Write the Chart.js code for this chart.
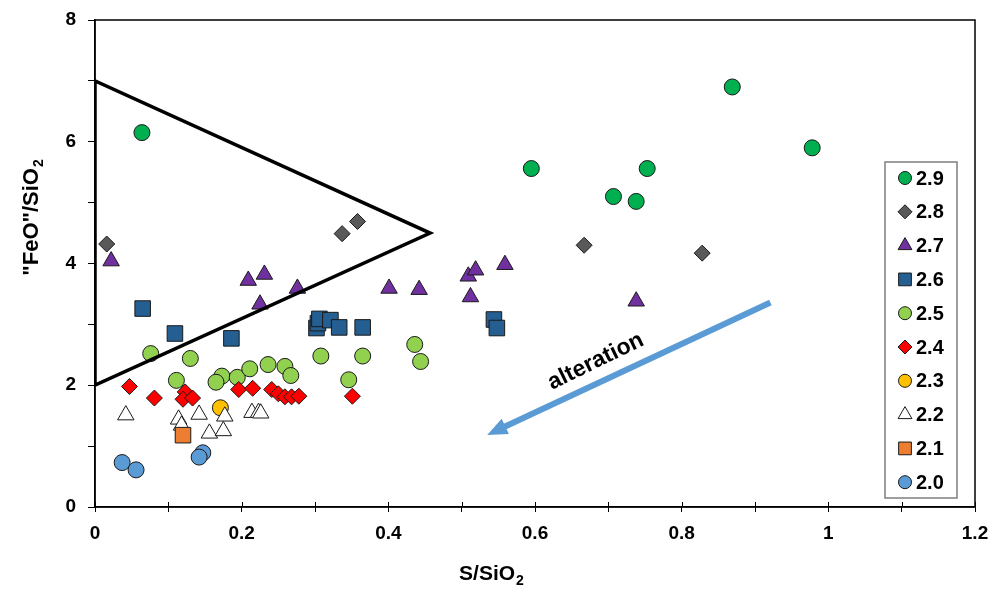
<!DOCTYPE html>
<html>
<head>
<meta charset="utf-8">
<script src="https://cdn.jsdelivr.net/npm/chart.js@4/dist/chart.umd.min.js"></script>
<style>
  html, body { margin: 0; padding: 0; background: #fff; }
  #wrap { width: 990px; height: 590px; }
</style>
</head>
<body>
<div id="wrap"><canvas id="chart" width="990" height="590"></canvas></div>
<script>
// series (sample groups)
const categories = ['2.9', '2.8', '2.7', '2.6', '2.5', '2.4', '2.3', '2.2', '2.1', '2.0'];

const x29 = [0.064, 0.595, 0.707, 0.738, 0.753, 0.869, 0.978];
const y29 = [6.15, 5.56, 5.10, 5.02, 5.56, 6.90, 5.90];

const x28 = [0.016, 0.337, 0.358, 0.667, 0.828];
const y28 = [4.32, 4.49, 4.69, 4.30, 4.17];

const x27 = [0.022, 0.209, 0.231, 0.225, 0.276, 0.401, 0.442, 0.509, 0.519, 0.512, 0.559, 0.738];
const y27 = [4.04, 3.72, 3.82, 3.33, 3.59, 3.59, 3.57, 3.79, 3.89, 3.45, 3.98, 3.38];

const x26 = [0.065, 0.109, 0.186, 0.302, 0.304, 0.306, 0.321, 0.333, 0.365, 0.544, 0.548];
const y26 = [3.26, 2.85, 2.77, 2.94, 3.02, 3.09, 3.07, 2.95, 2.95, 3.08, 2.94];

const x25 = [0.076, 0.130, 0.111, 0.173, 0.165, 0.194, 0.211, 0.236, 0.259, 0.267, 0.308, 0.365, 0.346, 0.436, 0.444];
const y25 = [2.52, 2.44, 2.08, 2.15, 2.05, 2.13, 2.27, 2.34, 2.31, 2.16, 2.48, 2.48, 2.09, 2.67, 2.39];

const x24 = [0.047, 0.081, 0.123, 0.120, 0.133, 0.196, 0.215, 0.241, 0.250, 0.259, 0.268, 0.278, 0.351];
const y24 = [1.98, 1.79, 1.89, 1.77, 1.79, 1.93, 1.95, 1.93, 1.86, 1.81, 1.81, 1.82, 1.82];

const x23 = [0.171];
const y23 = [1.63];

const x22 = [0.042, 0.114, 0.118, 0.142, 0.177, 0.156, 0.175, 0.214, 0.223, 0.226];
const y22 = [1.51, 1.44, 1.34, 1.52, 1.49, 1.21, 1.25, 1.55, 1.55, 1.54];

const x21 = [0.120];
const y21 = [1.18];

const x20 = [0.037, 0.056, 0.147, 0.142];
const y20 = [0.73, 0.61, 0.89, 0.82];

// field triangle and alteration arrow
const triX = [0, 0.457, 0, 0];
const triY = [2.0, 4.5, 7.0, 2.0];
const arrowX = [0.921, 0.557];
const arrowY = [3.36, 1.31];

const xTickLabels = ['0', '0.2', '0.4', '0.6', '0.8', '1', '1.2'];
const yTickLabels = ['0', '2', '4', '6', '8'];

const FONT = "'Liberation Sans', Arial, sans-serif";

const toPts = (xs, ys) => xs.map((x, i) => ({ x: x, y: ys[i] }));

const seriesDefs = [
  { xs: x29, ys: y29, style: 'circle',   color: '#00B050', r: 8,   lr: 6.5 },
  { xs: x28, ys: y28, style: 'rectRot',  color: '#595959', r: 8,   lr: 7 },
  { xs: x27, ys: y27, style: 'triangle', color: '#7030A0', r: 9.5, lr: 8 },
  { xs: x26, ys: y26, style: 'rect',     color: '#255E91', r: 11,  lr: 9 },
  { xs: x25, ys: y25, style: 'circle',   color: '#92D050', r: 8,   lr: 6.5 },
  { xs: x24, ys: y24, style: 'rectRot',  color: '#FF0000', r: 8,   lr: 7 },
  { xs: x23, ys: y23, style: 'circle',   color: '#FFC000', r: 8,   lr: 6.5 },
  { xs: x22, ys: y22, style: 'triangle', color: '#FFFFFF', r: 9.5, lr: 8 },
  { xs: x21, ys: y21, style: 'rect',     color: '#ED7D31', r: 11,  lr: 9 },
  { xs: x20, ys: y20, style: 'circle',   color: '#5B9BD5', r: 8,   lr: 6.5 }
];

function drawMarker(ctx, style, x, y, r) {
  ctx.beginPath();
  if (style === 'circle') {
    ctx.arc(x, y, r, 0, Math.PI * 2);
  } else if (style === 'rectRot') {
    ctx.moveTo(x - r, y); ctx.lineTo(x, y - r); ctx.lineTo(x + r, y); ctx.lineTo(x, y + r);
  } else if (style === 'triangle') {
    ctx.moveTo(x, y - r);
    ctx.lineTo(x + r * Math.sin(2 * Math.PI / 3), y - r * Math.cos(2 * Math.PI / 3));
    ctx.lineTo(x + r * Math.sin(4 * Math.PI / 3), y - r * Math.cos(4 * Math.PI / 3));
  } else {
    const h = r * Math.SQRT1_2;
    ctx.rect(x - h, y - h, 2 * h, 2 * h);
  }
  ctx.closePath();
  ctx.fill();
  ctx.stroke();
}

const decor = {
  id: 'decor',
  beforeDraw(chart) {
    const ctx = chart.ctx;
    ctx.save();
    ctx.fillStyle = '#fff';
    ctx.fillRect(0, 0, chart.width, chart.height);
    ctx.restore();
  },
  afterDatasetsDraw(chart) {
    const ctx = chart.ctx;
    const a = chart.chartArea;
    const xs = chart.scales.x, ys = chart.scales.y;
    ctx.save();
    // plot box
    ctx.strokeStyle = '#000';
    ctx.lineWidth = 1.5;
    ctx.strokeRect(a.left, a.top, a.right - a.left, a.bottom - a.top);
    // inner half of x ticks
    ctx.lineWidth = 1;
    xs.ticks.forEach(t => {
      const px = Math.round(xs.getPixelForValue(t.value)) + 0.5;
      ctx.beginPath(); ctx.moveTo(px, a.bottom - 5); ctx.lineTo(px, a.bottom); ctx.stroke();
    });
    // arrow head
    const x0 = xs.getPixelForValue(arrowX[0]), y0 = ys.getPixelForValue(arrowY[0]);
    const x1 = xs.getPixelForValue(arrowX[1]), y1 = ys.getPixelForValue(arrowY[1]);
    const len = Math.hypot(x1 - x0, y1 - y0);
    const ux = (x1 - x0) / len, uy = (y1 - y0) / len;
    const hl = 18, hw = 8.5;
    const tx = x1 + ux * hl, ty = y1 + uy * hl;
    const bx = x1 - ux * 2, by = y1 - uy * 2;
    ctx.fillStyle = '#5B9BD5';
    ctx.beginPath();
    ctx.moveTo(tx, ty);
    ctx.lineTo(bx - uy * hw, by + ux * hw);
    ctx.lineTo(bx + uy * hw, by - ux * hw);
    ctx.closePath();
    ctx.fill();
    // alteration label
    ctx.translate(xs.getPixelForValue(0.683), ys.getPixelForValue(2.39));
    ctx.rotate(-26 * Math.PI / 180);
    ctx.fillStyle = '#000';
    ctx.font = 'bold 23px ' + FONT;
    ctx.textAlign = 'center';
    ctx.textBaseline = 'middle';
    ctx.fillText('alteration', 0, 0);
    ctx.restore();
  },
  afterDraw(chart) {
    const ctx = chart.ctx;
    const a = chart.chartArea;
    ctx.save();
    // legend
    const lx = a.right - 90, ly = a.top + 142, lw = 72, lh = 336;
    ctx.fillStyle = '#fff';
    ctx.fillRect(lx, ly, lw, lh);
    ctx.strokeStyle = '#7f7f7f';
    ctx.lineWidth = 1.5;
    ctx.strokeRect(lx, ly, lw, lh);
    ctx.font = 'bold 20px ' + FONT;
    ctx.textBaseline = 'middle';
    ctx.textAlign = 'left';
    seriesDefs.forEach((s, i) => {
      const cy = ly + 16 + i * 33.8;
      ctx.fillStyle = s.color;
      ctx.strokeStyle = '#1a1a1a';
      ctx.lineWidth = 1;
      drawMarker(ctx, s.style, lx + 20, cy, s.lr);
      ctx.fillStyle = '#000';
      ctx.fillText(categories[i], lx + 31, cy + 1);
    });
    // axis titles with subscripts
    ctx.fillStyle = '#000';
    ctx.textBaseline = 'alphabetic';
    ctx.font = 'bold 21px ' + FONT;
    const xMain = 'S/SiO';
    const wMain = ctx.measureText(xMain).width;
    ctx.font = 'bold 14px ' + FONT;
    const wSub = ctx.measureText('2').width;
    let sx = 491 - (wMain + wSub) / 2;
    ctx.font = 'bold 21px ' + FONT;
    ctx.fillText(xMain, sx, 580);
    ctx.font = 'bold 14px ' + FONT;
    ctx.fillText('2', sx + wMain + 1, 585);

    ctx.translate(38, 218);
    ctx.rotate(-Math.PI / 2);
    ctx.font = 'bold 22px ' + FONT;
    const yMain = '"FeO"/SiO';
    const wy = ctx.measureText(yMain).width;
    ctx.font = 'bold 14px ' + FONT;
    const wy2 = ctx.measureText('2').width;
    const sy = -(wy + wy2) / 2;
    ctx.font = 'bold 22px ' + FONT;
    ctx.fillText(yMain, sy, 0);
    ctx.font = 'bold 14px ' + FONT;
    ctx.fillText('2', sy + wy + 1, 5);
    ctx.restore();
  }
};

const datasets = [
  { label: 'field', data: toPts(triX, triY), showLine: true, fill: false, borderColor: '#000', borderWidth: 3.5, pointRadius: 0, order: 0 },
  { label: 'arrow', data: toPts(arrowX, arrowY), showLine: true, fill: false, borderColor: '#5B9BD5', borderWidth: 6, pointRadius: 0, order: 0 }
].concat(seriesDefs.map((s, i) => ({
  label: categories[i],
  data: toPts(s.xs, s.ys),
  pointStyle: s.style,
  pointRadius: s.r,
  pointHoverRadius: s.r,
  backgroundColor: s.color,
  borderColor: '#1a1a1a',
  borderWidth: 1,
  order: seriesDefs.length - i
})));

const tickFont = { family: FONT, size: 19, weight: 'bold' };

new Chart(document.getElementById('chart'), {
  type: 'scatter',
  data: { datasets: datasets },
  options: {
    responsive: false,
    animation: false,
    devicePixelRatio: 1,
    layout: { padding: { top: 20, right: 15, left: 0, bottom: 0 } },
    plugins: { legend: { display: false }, tooltip: { enabled: false } },
    events: [],
    scales: {
      x: {
        type: 'linear', min: 0, max: 1.2,
        afterFit: s => { s.height = 83; s.paddingLeft = 0; s.paddingRight = 0; },
        ticks: {
          stepSize: 0.1, autoSkip: false, maxRotation: 0, padding: 10, color: '#000', font: tickFont,
          callback: v => xTickLabels.find(t => Math.abs(parseFloat(t) - v) < 1e-6) || ''
        },
        grid: { drawOnChartArea: false, drawTicks: true, tickLength: 5, tickColor: '#000', tickWidth: 1 },
        border: { display: true, color: '#000', width: 1.5 }
      },
      y: {
        type: 'linear', min: 0, max: 8,
        afterFit: s => { s.width = 95; s.paddingTop = 0; s.paddingBottom = 0; },
        ticks: {
          stepSize: 1, autoSkip: false, padding: 12, color: '#000', font: tickFont,
          callback: v => yTickLabels.find(t => Math.abs(parseFloat(t) - v) < 1e-6) || ''
        },
        grid: { drawOnChartArea: false, drawTicks: true, tickLength: 7, tickColor: '#000', tickWidth: 1 },
        border: { display: true, color: '#000', width: 1.5 }
      }
    }
  },
  plugins: [decor]
});
</script>
</body>
</html>
